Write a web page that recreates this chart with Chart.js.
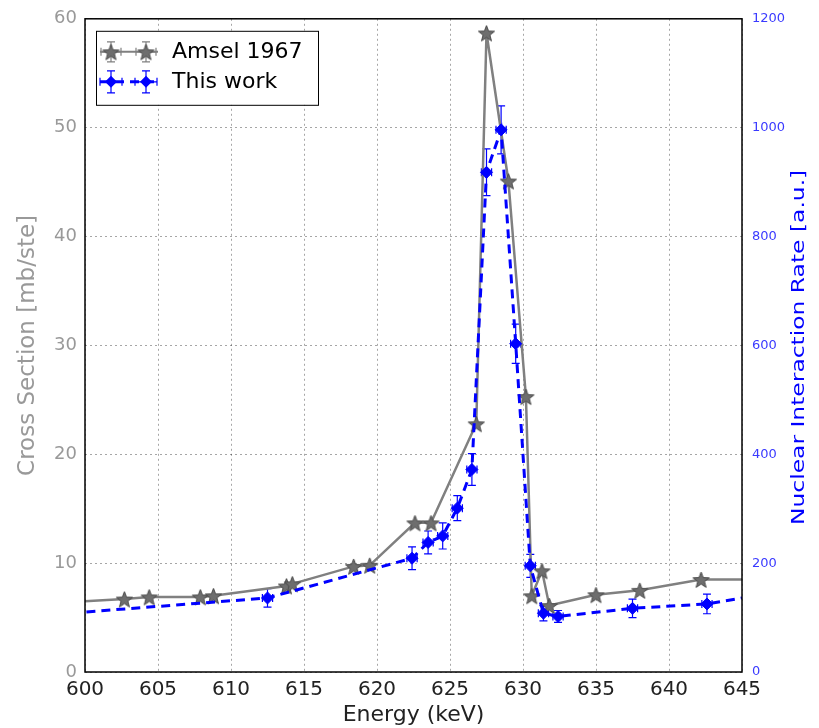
<!DOCTYPE html>
<html>
<head>
<meta charset="utf-8">
<script src="https://cdn.jsdelivr.net/npm/chart.js@4/dist/chart.umd.min.js"></script>
<style>
  body { margin: 0; background: #fff; }
</style>
</head>
<body>
<canvas id="myChart" width="819" height="728"></canvas>
<script>
// Amsel 1967 (left axis, mb/ste)
var amselEnergy = [597.5, 602.7, 604.4, 607.9, 608.8, 613.8, 614.2, 618.4, 619.5, 622.6, 623.7, 626.8, 627.5, 629.0, 630.2, 630.6, 631.3, 631.8, 635.0, 638.0, 642.2, 648.0]
var amselXs = [6.3, 6.7, 6.9, 6.9, 7.0, 7.9, 8.1, 9.7, 9.8, 13.7, 13.7, 22.8, 58.7, 45.1, 25.3, 7.0, 9.3, 6.1, 7.1, 7.5, 8.5, 8.5]

// This work (right axis, a.u.)
var workEnergy = [596.0, 612.5, 622.4, 623.5, 624.5, 625.5, 626.5, 627.5, 628.5, 629.5, 630.5, 631.4, 632.4, 637.5, 642.6, 648.0]
var workRate = [102, 136, 209, 238, 250, 301, 372, 918, 996, 603, 195, 108, 102, 117, 125, 150]
var workRateErr = [0, 17, 21, 21, 24, 23, 29, 43, 44, 36, 21, 14, 11, 17, 18, 0]
var workEnergyErr = [0, 0.35, 0.35, 0.35, 0.35, 0.35, 0.35, 0.35, 0.35, 0.35, 0.35, 0.35, 0.35, 0.35, 0.35, 0]

var energyTicks = [600, 605, 610, 615, 620, 625, 630, 635, 640, 645]

var GREY = '#808080'
var BLUE = '#0000ff'

// filled star marker for the Amsel points
function makeStar (size) {
  var c = document.createElement('canvas')
  c.width = size
  c.height = size
  var g = c.getContext('2d')
  var r = size / 2 - 1
  g.beginPath()
  for (var i = 0; i < 10; i++) {
    var rad = i % 2 == 0 ? r : r * 0.42
    var a = -Math.PI / 2 + i * Math.PI / 5
    var px = size / 2 + rad * Math.cos(a)
    var py = size / 2 + 1 + rad * Math.sin(a)
    if (i == 0) g.moveTo(px, py); else g.lineTo(px, py)
  }
  g.closePath()
  g.fillStyle = '#6e6e6e'
  g.fill()
  g.strokeStyle = '#4a4a4a'
  g.lineWidth = 1
  g.stroke()
  return c
}
var starImg = makeStar(19)

function toPoints (xs, ys) {
  var out = []
  for (var i = 0; i < xs.length; i++) out.push({x: xs[i], y: ys[i]})
  return out
}

function drawStarAt (ctx, x, y) {
  ctx.drawImage(starImg, x - starImg.width / 2, y - starImg.height / 2)
}
function drawDiamond (ctx, x, y, r) {
  ctx.beginPath()
  ctx.moveTo(x, y - r)
  ctx.lineTo(x + r, y)
  ctx.lineTo(x, y + r)
  ctx.lineTo(x - r, y)
  ctx.closePath()
  ctx.fillStyle = BLUE
  ctx.fill()
}
function drawErr (ctx, x, y, dx, dy, color) {
  ctx.save()
  ctx.strokeStyle = color
  ctx.lineWidth = 1.2
  ctx.beginPath()
  ctx.moveTo(x - dx, y); ctx.lineTo(x + dx, y)
  ctx.moveTo(x, y - dy); ctx.lineTo(x, y + dy)
  ctx.moveTo(x - 4, y - dy); ctx.lineTo(x + 4, y - dy)
  ctx.moveTo(x - 4, y + dy); ctx.lineTo(x + 4, y + dy)
  ctx.moveTo(x - dx, y - 4); ctx.lineTo(x - dx, y + 4)
  ctx.moveTo(x + dx, y - 4); ctx.lineTo(x + dx, y + 4)
  ctx.stroke()
  ctx.restore()
}

// error bars for "This work", drawn under the markers
var errorBars = {
  id: 'errorBars',
  beforeDatasetsDraw (chart) {
    var ctx = chart.ctx
    var a = chart.chartArea
    var xs = chart.scales.x
    var ys = chart.scales.y2
    ctx.save()
    ctx.beginPath()
    ctx.rect(a.left, a.top, a.right - a.left, a.bottom - a.top)
    ctx.clip()
    for (var i = 0; i < workEnergy.length; i++) {
      if (!workRateErr[i]) continue
      var px = xs.getPixelForValue(workEnergy[i])
      var py = ys.getPixelForValue(workRate[i])
      var dx = xs.getPixelForValue(workEnergy[i] + workEnergyErr[i]) - px
      var dy = py - ys.getPixelForValue(workRate[i] + workRateErr[i])
      drawErr(ctx, px, py, dx, dy, BLUE)
    }
    ctx.restore()
  }
}

// frame, legend box in the top left corner, right axis title
var frameLegend = {
  id: 'frameLegend',
  afterDraw (chart) {
    var ctx = chart.ctx
    var a = chart.chartArea
    ctx.save()
    ctx.strokeStyle = '#000'
    ctx.lineWidth = 1.5
    ctx.strokeRect(a.left, a.top, a.right - a.left, a.bottom - a.top)

    var bx = a.left + 11, by = a.top + 12, bw = 222, bh = 74
    ctx.fillStyle = '#fff'
    ctx.fillRect(bx, by, bw, bh)
    ctx.lineWidth = 1
    ctx.strokeRect(bx + 0.5, by + 0.5, bw, bh)

    var y1 = by + 21, y2 = by + 51
    var m1 = bx + 15, m2 = bx + 50
    // Amsel handle
    ctx.strokeStyle = GREY
    ctx.lineWidth = 2
    ctx.beginPath(); ctx.moveTo(bx + 4, y1); ctx.lineTo(bx + 62, y1); ctx.stroke()
    drawErr(ctx, m1, y1, 10, 10, GREY)
    drawErr(ctx, m2, y1, 10, 10, GREY)
    drawStarAt(ctx, m1, y1)
    drawStarAt(ctx, m2, y1)
    // This work handle
    ctx.strokeStyle = BLUE
    ctx.lineWidth = 3
    ctx.setLineDash([9, 6])
    ctx.beginPath(); ctx.moveTo(bx + 4, y2); ctx.lineTo(bx + 62, y2); ctx.stroke()
    ctx.setLineDash([])
    drawErr(ctx, m1, y2, 11, 11, BLUE)
    drawErr(ctx, m2, y2, 11, 11, BLUE)
    drawDiamond(ctx, m1, y2, 6)
    drawDiamond(ctx, m2, y2, 6)

    ctx.fillStyle = '#000'
    ctx.font = '22px "DejaVu Sans"'
    ctx.textBaseline = 'middle'
    ctx.fillText('Amsel 1967', bx + 76, y1)
    ctx.fillText('This work', bx + 76, y2)

    // right axis title, reading bottom to top like the original
    ctx.translate(799, (a.top + a.bottom) / 2 + 2)
    ctx.rotate(-Math.PI / 2)
    ctx.scale(1.3, 1)
    ctx.fillStyle = BLUE
    ctx.font = '18px "DejaVu Sans"'
    ctx.textAlign = 'center'
    ctx.fillText('Nuclear Interaction Rate [a.u.]', 0, 0)
    ctx.restore()
  }
}

var ctx = document.getElementById('myChart').getContext('2d')
var chart = new Chart(ctx, {
  type: 'line',
  data: {
    datasets: [{
      label: 'This work',
      data: toPoints(workEnergy, workRate),
      yAxisID: 'y2',
      borderColor: BLUE,
      borderWidth: 3,
      borderDash: [9, 6],
      pointStyle: 'rectRot',
      pointRadius: 6,
      pointBackgroundColor: BLUE,
      pointBorderColor: BLUE,
      pointBorderWidth: 1,
      tension: 0,
      order: 0
    }, {
      label: 'Amsel 1967',
      data: toPoints(amselEnergy, amselXs),
      yAxisID: 'y',
      borderColor: GREY,
      borderWidth: 2.5,
      pointStyle: starImg,
      tension: 0,
      order: 1
    }]
  },
  options: {
    responsive: false,
    animation: false,
    devicePixelRatio: 1,
    layout: {padding: {top: 15}},
    plugins: {legend: {display: false}, tooltip: {enabled: false}},
    scales: {
      x: {
        type: 'linear',
        min: 600,
        max: 645,
        afterBuildTicks (scale) { scale.ticks = energyTicks.map(v => ({value: v})) },
        afterFit (scale) { scale.height = 56 },
        grid: {color: 'rgba(0,0,0,0.35)', lineWidth: 1, drawTicks: false},
        border: {display: false, dash: [2, 3]},
        ticks: {color: '#222', font: {family: 'DejaVu Sans', size: 20}, padding: 6, maxRotation: 0, callback: v => String(v)},
        title: {display: true, text: 'Energy (keV)', color: '#222', font: {family: 'DejaVu Sans', size: 22}, padding: {top: 0, bottom: 0}}
      },
      y: {
        position: 'left',
        min: 0,
        max: 60,
        ticks: {stepSize: 10, color: '#999', font: {family: 'DejaVu Sans', size: 18}, padding: 8, callback: v => String(v)},
        afterFit (scale) { scale.width = 85 },
        grid: {color: 'rgba(0,0,0,0.35)', lineWidth: 1, drawTicks: false},
        border: {display: false, dash: [2, 3]},
        title: {display: true, text: 'Cross Section [mb/ste]', color: '#999', font: {family: 'DejaVu Sans', size: 23}, padding: {top: 14}}
      },
      y2: {
        position: 'right',
        min: 0,
        max: 1200,
        ticks: {stepSize: 200, color: '#3a3aff', font: {family: 'DejaVu Sans', size: 13}, padding: 10, callback: v => String(v)},
        afterFit (scale) { scale.width = 77 },
        grid: {display: false, drawTicks: false},
        border: {display: false},
        title: {display: false}
      }
    }
  },
  plugins: [errorBars, frameLegend]
})
</script>
</body>
</html>
